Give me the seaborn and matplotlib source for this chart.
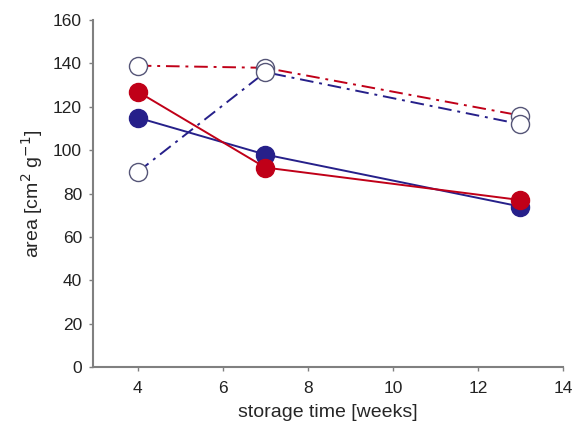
import matplotlib
matplotlib.use("Agg")
import matplotlib.pyplot as plt
import seaborn as sns
import pandas as pd

weeks = [4, 7, 13]
red_filled = [127, 92, 77]
blue_filled = [115, 98, 74]
red_open = [139, 138, 116]
blue_open = [90, 136, 112]

sns.set_style("ticks")
plt.rcParams['font.family'] = ['Liberation Sans', 'DejaVu Sans']

RED = "#c00018"
BLUE = "#26208a"
AXC = "#808080"

fig = plt.figure(figsize=(5.75, 4.28), dpi=100)
ax = fig.add_axes([0.162, 0.1425, 0.817, 0.8105])

series = [
    (red_open, RED, True, "white"),
    (blue_open, BLUE, True, "white"),
    (blue_filled, BLUE, False, BLUE),
    (red_filled, RED, False, RED),
]
for vals, col, dashed, fc in series:
    df = pd.DataFrame({"x": weeks, "y": vals})
    sns.lineplot(data=df, x="x", y="y", ax=ax, color=col,
                 linewidth=1.4, marker="o", markersize=13,
                 markerfacecolor=fc,
                 markeredgecolor=col if fc != "white" else "#555577",
                 markeredgewidth=1.0)
    if dashed:
        ax.lines[-1].set_dashes([7, 3, 1.5, 3])

ax.set_xlim(2.95, 14)
ax.set_ylim(0, 160)
ax.set_xticks([4, 6, 8, 10, 12, 14])
ax.set_yticks(range(0, 161, 20))
ax.set_xlabel("storage time [weeks]", fontsize=14, labelpad=6)
ax.set_ylabel(r"area [cm$^2$ g$^{-1}$]", fontsize=14, labelpad=6)
ax.tick_params(labelsize=12.5, colors="#222222", length=3, width=1, color=AXC)
ax.tick_params(axis="x", pad=7)
ax.tick_params(axis="y", pad=5)
for s in ["top", "right"]:
    ax.spines[s].set_visible(False)
for s in ["left", "bottom"]:
    ax.spines[s].set_color(AXC)
    ax.spines[s].set_linewidth(1.5)

fig.savefig("out.png", dpi=100)
